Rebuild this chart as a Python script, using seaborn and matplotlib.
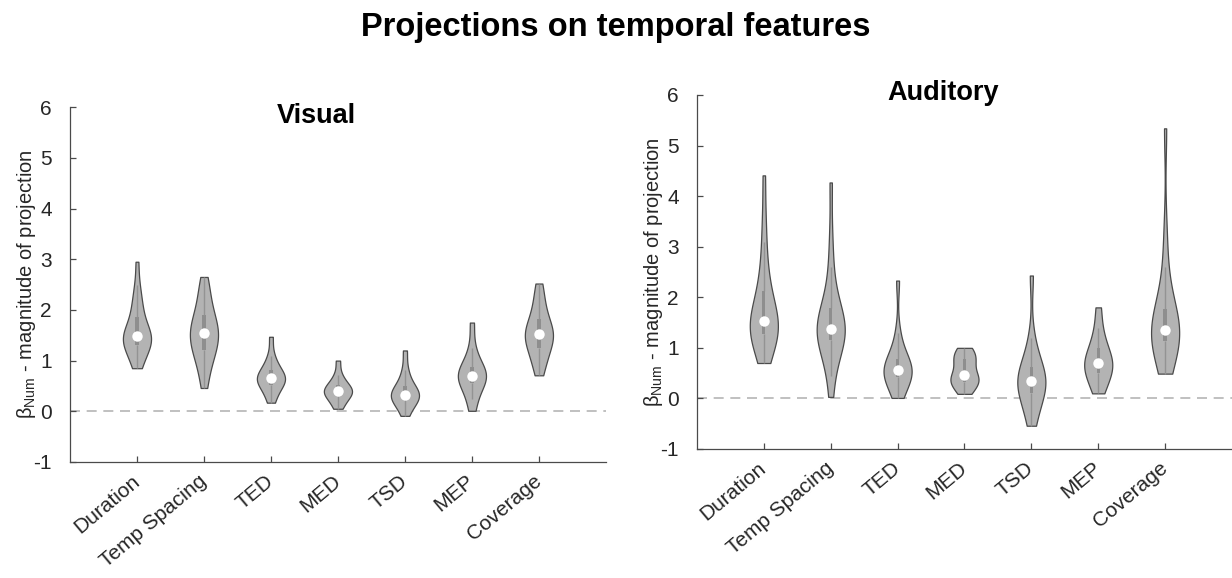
import numpy as np
import pandas as pd
import matplotlib
matplotlib.use("Agg")
import matplotlib.pyplot as plt
import seaborn as sns

# Features on the x axis
features = ["Duration", "Temp Spacing", "TED", "MED", "TSD", "MEP", "Coverage"]

# Projection magnitudes per feature, visual modality
vis_duration = [0.85, 0.95, 1.05, 1.15, 1.22, 1.28, 1.32, 1.36, 1.40, 1.44, 1.47, 1.49,
                1.52, 1.56, 1.62, 1.70, 1.80, 1.92, 2.02, 2.15, 2.30, 2.50, 2.95]
vis_temp_spacing = [0.46, 0.70, 0.90, 1.02, 1.12, 1.20, 1.28, 1.35, 1.42, 1.48, 1.55,
                    1.60, 1.65, 1.72, 1.80, 1.90, 2.00, 2.12, 2.30, 2.45, 2.65]
vis_ted = [0.17, 0.30, 0.42, 0.50, 0.55, 0.60, 0.63, 0.65, 0.68, 0.72, 0.78, 0.85, 0.95, 1.10, 1.47]
vis_med = [0.05, 0.15, 0.25, 0.30, 0.35, 0.38, 0.40, 0.43, 0.47, 0.52, 0.60, 0.72, 1.00]
vis_tsd = [-0.09, 0.08, 0.18, 0.24, 0.28, 0.31, 0.33, 0.36, 0.42, 0.50, 0.62, 0.82, 1.20]
vis_mep = [0.01, 0.25, 0.42, 0.55, 0.62, 0.67, 0.70, 0.74, 0.80, 0.88, 1.00, 1.25, 1.75]
vis_coverage = [0.71, 0.90, 1.05, 1.15, 1.25, 1.35, 1.42, 1.48, 1.52, 1.57, 1.63, 1.72,
                1.82, 1.95, 2.10, 2.30, 2.52]

# Projection magnitudes per feature, auditory modality
aud_duration = [0.70, 0.85, 1.00, 1.10, 1.18, 1.25, 1.30, 1.35, 1.40, 1.45, 1.50, 1.54,
                1.60, 1.68, 1.78, 1.90, 2.05, 2.20, 2.40, 2.70, 3.10, 3.60, 4.41]
aud_temp_spacing = [0.03, 0.45, 0.75, 0.95, 1.08, 1.15, 1.22, 1.28, 1.32, 1.35, 1.38,
                    1.42, 1.48, 1.55, 1.65, 1.78, 1.95, 2.20, 2.60, 3.20, 4.27]
aud_ted = [0.01, 0.15, 0.28, 0.38, 0.45, 0.50, 0.54, 0.56, 0.60, 0.65, 0.72, 0.82, 0.98, 1.30, 2.33]
aud_med = [0.09, 0.20, 0.28, 0.33, 0.38, 0.42, 0.47, 0.60, 0.70, 0.78, 0.85, 0.92, 1.00]
aud_tsd = [-0.54, -0.30, -0.10, 0.05, 0.15, 0.23, 0.30, 0.35, 0.40, 0.46, 0.55, 0.68, 0.85, 1.20, 2.43]
aud_mep = [0.10, 0.25, 0.40, 0.50, 0.58, 0.65, 0.71, 0.78, 0.88, 1.00, 1.15, 1.40, 1.80]
aud_coverage = [0.49, 0.70, 0.85, 1.00, 1.10, 1.16, 1.22, 1.27, 1.31, 1.35, 1.40, 1.48,
                1.58, 1.70, 1.85, 2.10, 2.60, 3.30, 5.34]

visual = [vis_duration, vis_temp_spacing, vis_ted, vis_med, vis_tsd, vis_mep, vis_coverage]
auditory = [aud_duration, aud_temp_spacing, aud_ted, aud_med, aud_tsd, aud_mep, aud_coverage]

y_ticks = [-1, 0, 1, 2, 3, 4, 5, 6]


def to_long(groups):
    rows = []
    for name, vals in zip(features, groups):
        rows.extend((name, v) for v in vals)
    return pd.DataFrame(rows, columns=["feature", "beta"])


sns.set_theme(style="white")
plt.rcParams["font.family"] = ["Liberation Sans", "DejaVu Sans"]
plt.rcParams["mathtext.fontset"] = "custom"
plt.rcParams["mathtext.rm"] = "Liberation Sans"
plt.rcParams["mathtext.it"] = "Liberation Sans:italic"

TEXT = "#262626"
AXIS = "#4a4a4a"

fig = plt.figure(figsize=(12.32, 5.78), dpi=100)
ax_vis = fig.add_axes([0.0568, 0.2007, 0.435, 0.614])
ax_aud = fig.add_axes([0.5657, 0.2232, 0.4343, 0.6125])


def draw_panel(ax, groups, title, title_y):
    df = to_long(groups)
    ax.axhline(0, color="#b5b5b5", lw=1.2, ls=(0, (6, 4)), zorder=0)
    sns.violinplot(data=df, x="feature", y="beta", order=features, ax=ax,
                   color="#b3b3b3", saturation=1, linecolor="#4a4a4a", linewidth=0.9,
                   cut=0, inner=None, density_norm="width", width=0.42, bw_adjust=0.9)
    sns.boxplot(data=df, x="feature", y="beta", order=features, ax=ax,
                width=0.05, color="#8e8e8e", saturation=1, linewidth=0, showcaps=False,
                showfliers=False, whis=1.5,
                boxprops=dict(facecolor="#8e8e8e", edgecolor="none"),
                whiskerprops=dict(color="#939393", linewidth=1.0),
                medianprops=dict(visible=False))
    sns.pointplot(data=df, x="feature", y="beta", order=features, ax=ax,
                  estimator="median", errorbar=None, linestyle="none", marker="o",
                  color="white", markersize=7.5, markeredgewidth=0)

    ax.set_xlim(-1, 7)
    ax.set_ylim(-1, 6)
    ax.set_yticks(y_ticks)
    ax.set_yticklabels([str(t) for t in y_ticks])
    ax.set_xticks(range(len(features)))
    ax.set_xticklabels(features, rotation=40, ha="right", va="center",
                       rotation_mode="anchor")
    ax.set_xlabel("")
    ax.set_ylabel(r"β$_{\mathrm{Num}}$ - magnitude of projection", fontsize=14.5,
                  color=TEXT, labelpad=-3)
    for side in ("top", "right"):
        ax.spines[side].set_visible(False)
    for side in ("left", "bottom"):
        ax.spines[side].set_color(AXIS)
        ax.spines[side].set_linewidth(0.9)
    ax.tick_params(axis="both", direction="in", length=4, width=0.9, color=AXIS,
                   labelsize=15, labelcolor=TEXT, left=True, bottom=True)
    ax.tick_params(axis="x", pad=12)
    ax.tick_params(axis="y", pad=13)
    ax.set_title(title, x=0.46, y=title_y, pad=0, fontsize=19.5, fontweight="bold",
                 color="black")


draw_panel(ax_vis, visual, "Visual", 0.955)
draw_panel(ax_aud, auditory, "Auditory", 0.985)

fig.suptitle("Projections on temporal features", x=0.5, y=0.952, va="center",
             fontsize=23.5, fontweight="bold", color="black")

fig.savefig("out.png", dpi=100)
